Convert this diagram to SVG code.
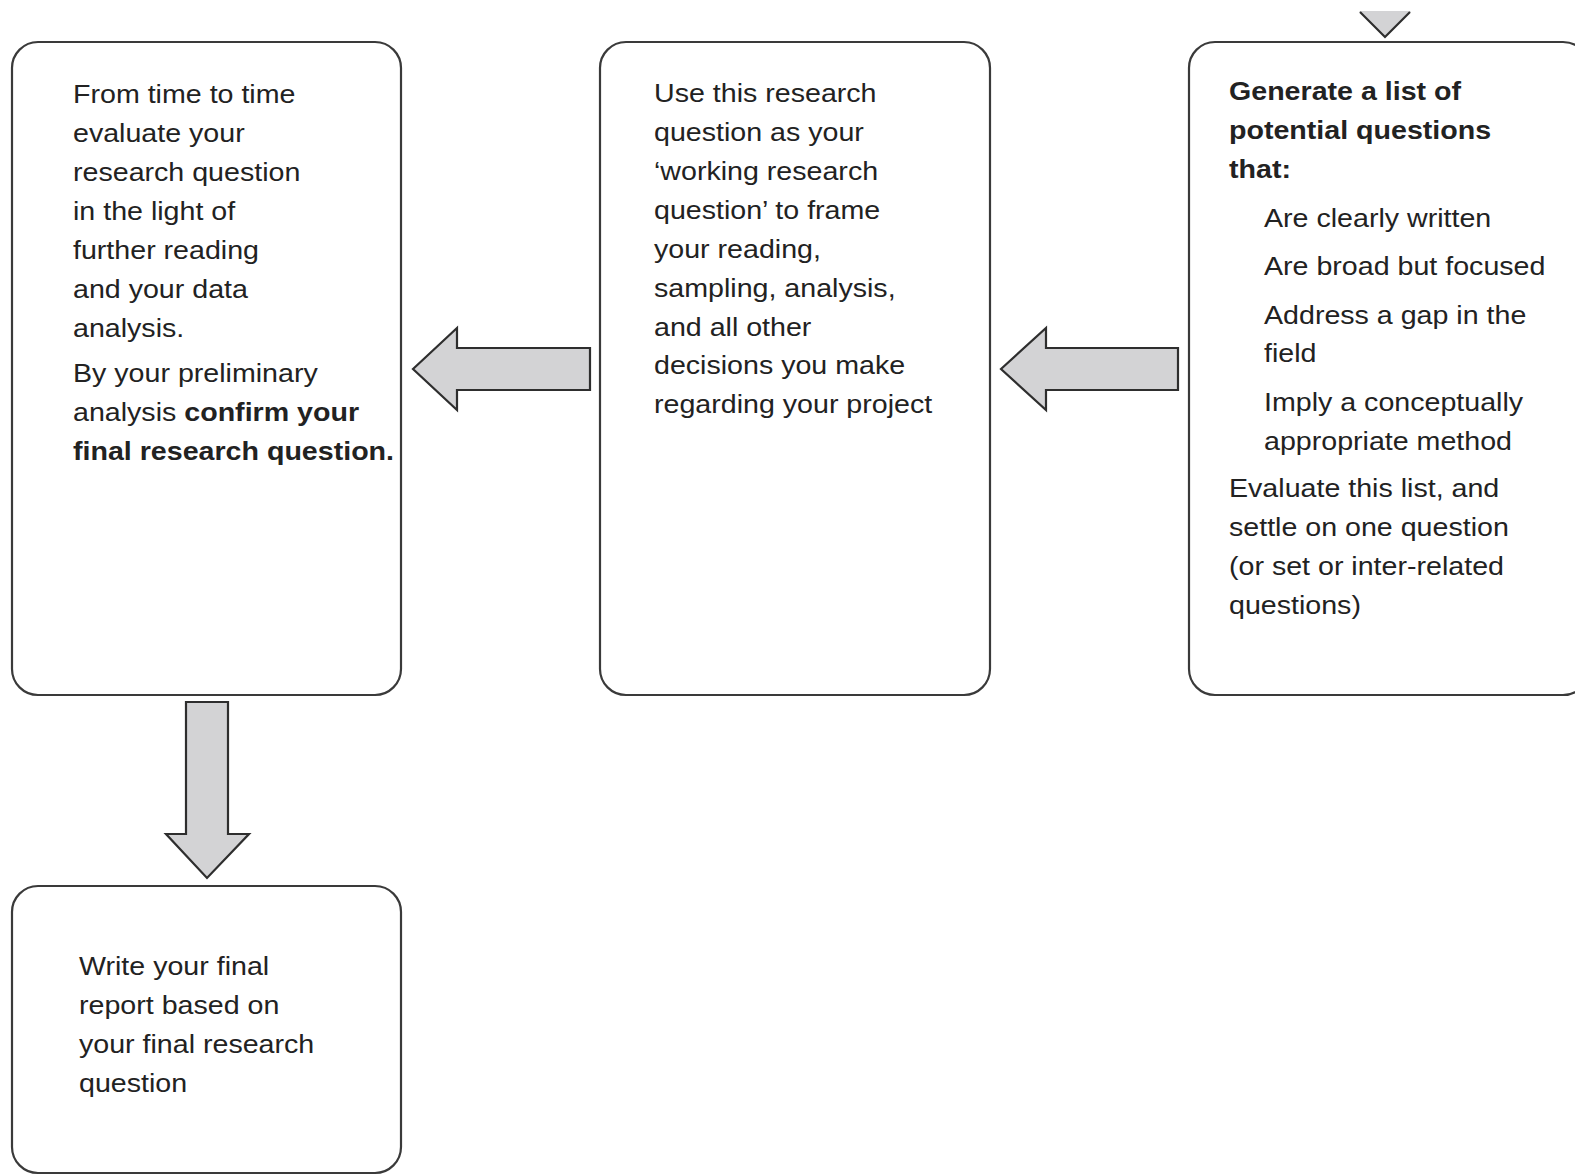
<svg xmlns="http://www.w3.org/2000/svg" width="1575" height="1175" viewBox="0 0 1575 1175">
<style>
.box{fill:#fff;stroke:#3a3a3a;stroke-width:2.2}
.arr{fill:#d3d3d5;stroke:#2e2e2e;stroke-width:2.2;stroke-linejoin:miter}
text{font-family:"Liberation Sans",Arial,sans-serif;font-size:26px;fill:#222}
.b{font-weight:bold}
</style>
<rect width="1575" height="1175" fill="#fff"/>
<g id="connectors">
<polygon points="1359,11 1411,11 1385,37" fill="#d3d3d5"/>
<polyline points="1360,12 1385,37 1410,12" fill="none" stroke="#2e2e2e" stroke-width="2.2"/>
<polygon class="arr" points="413,369 457,328 457,348 590,348 590,390 457,390 457,410"/>
<polygon class="arr" points="1001,369 1046,328 1046,348 1178,348 1178,390 1046,390 1046,410"/>
<polygon class="arr" points="186,702 228,702 228,834 249,834 207,878 166,834 186,834"/>
</g>
<g id="node-evaluate">
<rect class="box" x="12" y="42" width="389" height="653" rx="26"/>
<g transform="translate(73,0) scale(1.1,1)">
<text x="0" y="103">From time to time</text>
<text x="0" y="142">evaluate your</text>
<text x="0" y="181">research question</text>
<text x="0" y="220">in the light of</text>
<text x="0" y="259">further reading</text>
<text x="0" y="298">and your data</text>
<text x="0" y="337">analysis.</text>
<text x="0" y="382">By your preliminary</text>
<text x="0" y="421">analysis <tspan class="b">confirm your</tspan></text>
<text x="0" y="460" class="b">final research question.</text>
</g>
</g>
<g id="node-working">
<rect class="box" x="600" y="42" width="390" height="653" rx="26"/>
<g transform="translate(654,0) scale(1.1,1)">
<text x="0" y="102">Use this research</text>
<text x="0" y="141">question as your</text>
<text x="0" y="180">‘working research</text>
<text x="0" y="219">question’ to frame</text>
<text x="0" y="258">your reading,</text>
<text x="0" y="297">sampling, analysis,</text>
<text x="0" y="336">and all other</text>
<text x="0" y="374">decisions you make</text>
<text x="0" y="413">regarding your project</text>
</g>
</g>
<g id="node-generate">
<rect class="box" x="1189" y="42" width="400" height="653" rx="26"/>
<g transform="translate(1229,0) scale(1.1,1)">
<text x="0" y="100" class="b">Generate a list of</text>
<text x="0" y="139" class="b">potential questions</text>
<text x="0" y="178" class="b">that:</text>
<text x="0" y="497">Evaluate this list, and</text>
<text x="0" y="536">settle on one question</text>
<text x="0" y="575">(or set or inter-related</text>
<text x="0" y="614">questions)</text>
</g>
<g transform="translate(1264,0) scale(1.1,1)">
<text x="0" y="227">Are clearly written</text>
<text x="0" y="275">Are broad but focused</text>
<text x="0" y="324">Address a gap in the</text>
<text x="0" y="362">field</text>
<text x="0" y="411">Imply a conceptually</text>
<text x="0" y="450">appropriate method</text>
</g>
</g>
<g id="node-final">
<rect class="box" x="12" y="886" width="389" height="287" rx="26"/>
<g transform="translate(79,0) scale(1.1,1)">
<text x="0" y="975">Write your final</text>
<text x="0" y="1014">report based on</text>
<text x="0" y="1053">your final research</text>
<text x="0" y="1092">question</text>
</g>
</g>
</svg>
